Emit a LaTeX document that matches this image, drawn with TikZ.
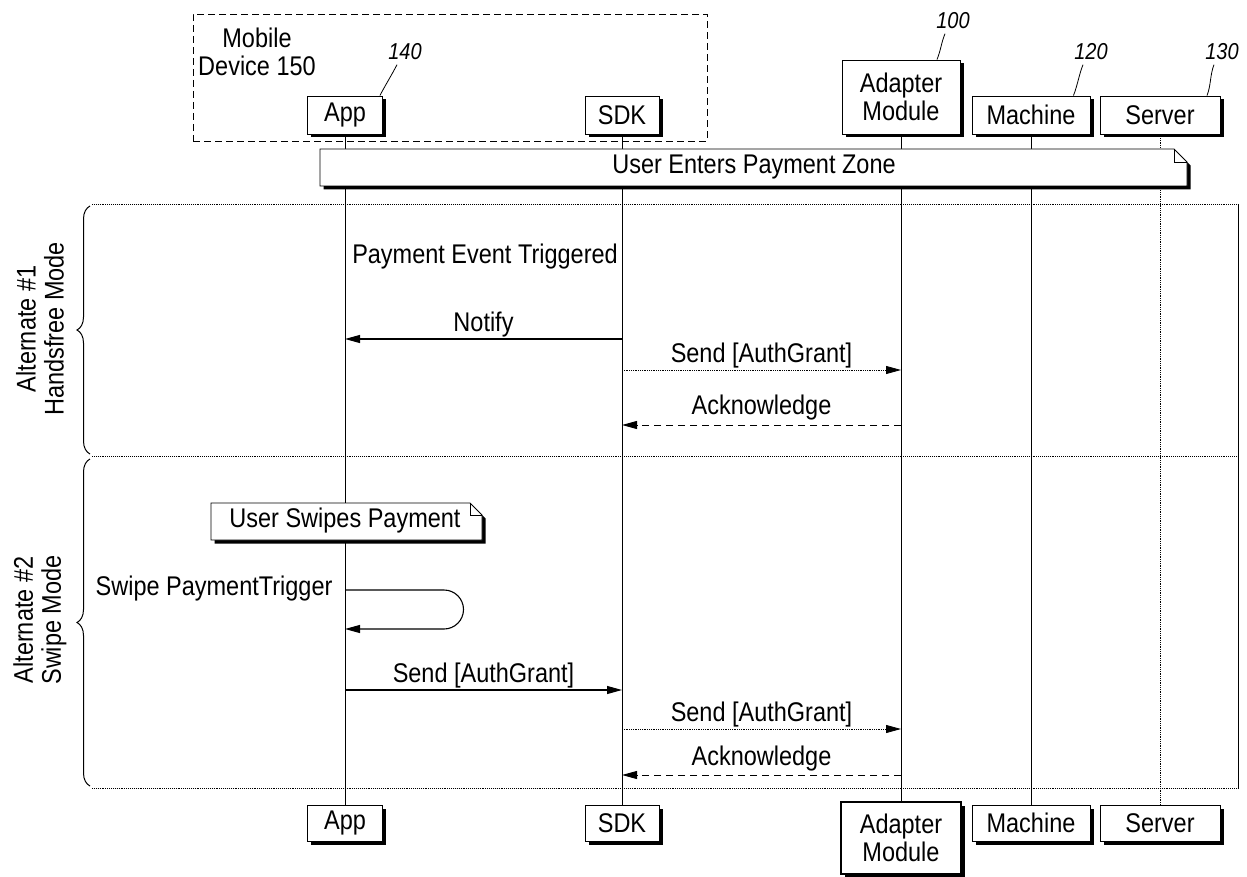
\documentclass[tikz,border=0pt]{standalone}
\usepackage{fontspec}
\setmainfont{Liberation Sans}[FakeStretch=0.87]
\usetikzlibrary{shadows,decorations.pathreplacing,arrows.meta,calc}
\begin{document}
\begin{tikzpicture}[x=1pt,y=-1pt,
  font=\fontsize{27}{28}\selectfont,
  box/.style={draw, line width=0.9pt, fill=white, inner sep=0pt, align=center,
    drop shadow={shadow xshift=3.5pt, shadow yshift=-3.5pt, fill=black, opacity=1}},
  notebox/.style={draw, line width=0.9pt, fill=white,
    drop shadow={shadow xshift=3.5pt, shadow yshift=-3.5pt, fill=black, opacity=1}},
  life/.style={line width=0.8pt},
  frameline/.style={densely dotted, line width=0.9pt},
  msg/.style={line width=1.1pt, -{Triangle[length=15pt,width=8pt]}},
  thinmsg/.style={line width=0.8pt, densely dotted, -{Triangle[length=15pt,width=8pt]}},
  retmsg/.style={line width=0.9pt, dash pattern=on 7pt off 5pt, -{Triangle[length=15pt,width=8pt]}},
  lbl/.style={above, inner sep=1.5pt},
  refnum/.style={font=\fontsize{23}{24}\selectfont\itshape},
  lead/.style={line width=0.8pt},
  brc/.style={decorate, decoration={brace, amplitude=13pt}, line width=1pt},
]
\useasboundingbox (0,0) rectangle (1247,877);

% mobile device frame
\node[draw, dash pattern=on 7pt off 4pt, line width=0.9pt, minimum width=514, minimum height=127, inner sep=0pt] (mob) at (450,77.5) {};
\node[align=center] (mobT) at (257,52) {Mobile\\Device 150};

% top actors
\node[box, minimum width=75, minimum height=38] (appT) at (345,115) {App};
\node[box, minimum width=74, minimum height=38] (sdkT) at (622,115) {SDK};
\node[box, minimum width=118, minimum height=74] (adT) at (901,97) {Adapter\\Module};
\node[box, minimum width=118, minimum height=38] (maT) at (1031,115) {Machine};
\node[box, minimum width=120, minimum height=38] (seT) at (1160,115) {Server};

% bottom actors
\node[box, minimum width=75, minimum height=36] (appB) at (345,823) {App};
\node[box, minimum width=74, minimum height=36] (sdkB) at (622,823) {SDK};
\node[box, line width=1.8pt, minimum width=120, minimum height=72] (adB) at (901,838) {Adapter\\Module};
\node[box, minimum width=118, minimum height=36] (maB) at (1031,823) {Machine};
\node[box, minimum width=120, minimum height=36] (seB) at (1160,823) {Server};

% reference numerals
\node[refnum] (r140) at (405,52) {140};
\node[refnum] (r100) at (953,21) {100};
\node[refnum] (r120) at (1091,52) {120};
\node[refnum] (r130) at (1222,52) {130};
\draw[lead] ($(appT.north east)+(-3,0)$) .. controls +(4,-8) and +(-4,8) .. ($(r140.south)+(-8,1)$);
\draw[lead] ($(adT.north)+(36,0)$) .. controls +(4,-10) and +(-4,10) .. ($(r100.south)+(-8,1)$);
\draw[lead] ($(maT.north east)+(-17,0)$) .. controls +(4,-10) and +(-4,10) .. ($(r120.south)+(-8,1)$);
\draw[lead] ($(seT.north)+(47,0)$) .. controls +(4,-10) and +(-4,10) .. ($(r130.south)+(-8,1)$);

% lifelines
\draw[life] (appT.south) -- (appB.north);
\draw[life] (sdkT.south) -- (sdkB.north);
\draw[life] (adT.south) -- (adB.north);
\draw[life] (maT.south) -- (maB.north);
\draw[life, densely dotted] (seT.south) -- (seB.north);

% user enters payment zone note
\path[notebox] (320,149) -- (1174,149) -- (1187,162) -- (1187,186) -- (320,186) -- cycle;
\draw[line width=0.8pt] (1174,149) -- (1174,162) -- (1187,162);
\node (zone) at (754,167) {User Enters Payment Zone};

% combined fragments
\draw[frameline] (92,204) -- (1238,204);
\draw[frameline] (92,456) -- (1238,456);
\draw[frameline] (92,788) -- (1238,788);
\draw[line width=0.9pt] (1238,204) -- (1238,788);
\draw[brc] (90,454) -- (90,206);
\draw[brc] (90,786) -- (90,459);
\node[rotate=90, align=center] (alt1) at (40,329) {Alternate \#1\\Handsfree Mode};
\node[rotate=90, align=center] (alt2) at (40,620) {Alternate \#2\\Swipe Mode};

% alternate 1
\node (pet) at (485,257) {Payment Event Triggered};
\draw[msg] (sdkT |- 0,339) -- node[lbl] (notify) {Notify} (appT |- 0,339);
\draw[thinmsg] (sdkT |- 0,370) -- node[lbl] (send1) {Send [AuthGrant]} (adT |- 0,370);
\draw[retmsg] (adT |- 0,425) -- node[lbl, inner sep=4pt] (ack1) {Acknowledge} (sdkT |- 0,425);

% alternate 2
\path[notebox] (211,503) -- (470,503) -- (482,515) -- (482,540) -- (211,540) -- cycle;
\draw[line width=0.8pt] (470,503) -- (470,515) -- (482,515);
\node (swipe) at (345,521) {User Swipes Payment};
\node[anchor=east] (trig) at (336,589) {Swipe PaymentTrigger};
\draw[msg] (appT |- 0,590) -- (444,590) arc[start angle=-90, end angle=90, radius=19.5] -- (appT |- 0,629);
\draw[msg] (appT |- 0,690) -- node[lbl] (send2) {Send [AuthGrant]} (sdkT |- 0,690);
\draw[thinmsg] (sdkT |- 0,729) -- node[lbl] (send3) {Send [AuthGrant]} (adT |- 0,729);
\draw[retmsg] (adT |- 0,775) -- node[lbl, inner sep=3pt] (ack2) {Acknowledge} (sdkT |- 0,775);
\end{tikzpicture}
\end{document}
